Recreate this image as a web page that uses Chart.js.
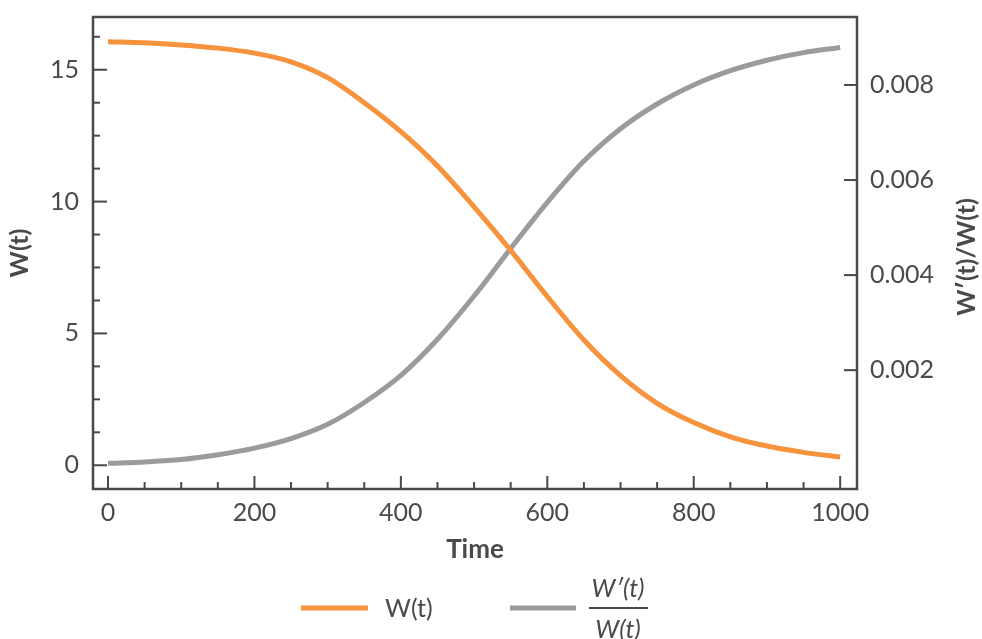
<!DOCTYPE html>
<html>
<head>
  <meta charset="utf-8">
  <title>W(t) and W'(t)/W(t)</title>
  <script src="https://cdn.jsdelivr.net/npm/chart.js"></script>
  <style>
    body { margin:0; background:#fff; }
    .wrap { width:982px; height:639px; position:relative; }
  </style>
</head>
<body>
  <div class="wrap"><canvas id="chart" width="982" height="639"></canvas></div>

  <script>
    // ---------------- Data ----------------
    const time = [0, 50, 100, 150, 200, 250, 300, 350, 400, 450, 500, 550, 600, 650, 700, 750, 800, 850, 900, 950, 1000];
    const wValues = [16.06, 16.02, 15.94, 15.82, 15.63, 15.3, 14.7, 13.75, 12.65, 11.35, 9.8, 8.15, 6.4, 4.75, 3.4, 2.35, 1.62, 1.08, 0.73, 0.49, 0.31];
    const ratioValues = [0.00004, 0.00007, 0.00012, 0.00022, 0.00036, 0.00056, 0.00086, 0.00132, 0.00189, 0.00265, 0.00356, 0.00456, 0.00553, 0.0064, 0.00708, 0.0076, 0.008, 0.0083, 0.00852, 0.00868, 0.00879];

    const timeTicks = [0, 200, 400, 600, 800, 1000];
    const timeMinor = [50, 100, 150, 250, 300, 350, 450, 500, 550, 650, 700, 750, 850, 900, 950];
    const wTicks = [0, 5, 10, 15];
    const wMinor = [1.25, 2.5, 3.75, 6.25, 7.5, 8.75, 11.25, 12.5, 13.75, 16.25];
    const ratioTicks = [0.002, 0.004, 0.006, 0.008];

    const ORANGE = "#F7923D";
    const GREY = "#9B9B9B";
    const INK = "#48484d";
    const TEXT = "#4a4a4a";
    const FONT = "Lato, 'Open Sans', sans-serif";

    // ---------------- Frame, inward ticks, right title, legend ----------------
    const decorations = {
      id: "decorations",
      afterDatasetsDraw(chart) {
        const { ctx, chartArea: a, scales } = chart;
        const line = (x1, y1, x2, y2) => { ctx.beginPath(); ctx.moveTo(x1, y1); ctx.lineTo(x2, y2); ctx.stroke(); };
        ctx.save();
        ctx.strokeStyle = INK;
        ctx.lineWidth = 2;
        wTicks.forEach(v => { const y = scales.y.getPixelForValue(v); line(a.left, y, a.left + 14, y); });
        wMinor.forEach(v => { const y = scales.y.getPixelForValue(v); line(a.left, y, a.left + 7, y); });
        timeTicks.forEach(v => { const x = scales.x.getPixelForValue(v); line(x, a.bottom, x, a.bottom - 13); });
        timeMinor.forEach(v => { const x = scales.x.getPixelForValue(v); line(x, a.bottom, x, a.bottom - 7); });
        ratioTicks.forEach(v => { const y = scales.y2.getPixelForValue(v); line(a.right, y, a.right - 13, y); });
        ctx.lineWidth = 2.5;
        ctx.strokeRect(a.left, a.top, a.right - a.left, a.bottom - a.top);

        // right axis title, reading bottom to top
        ctx.fillStyle = TEXT;
        ctx.font = "bold 25px " + FONT;
        ctx.textAlign = "center";
        ctx.textBaseline = "middle";
        ctx.save();
        ctx.translate(967, 257);
        ctx.rotate(-Math.PI / 2);
        ctx.fillText("W\u2032(t)/W(t)", 0, 0);
        ctx.restore();

        // legend
        const ds = chart.data.datasets;
        const ly = 608;
        ctx.lineWidth = 5;
        ctx.strokeStyle = ds[0].borderColor;
        line(301, ly, 368, ly);
        ctx.strokeStyle = ds[1].borderColor;
        line(510, ly, 576, ly);
        ctx.fillStyle = TEXT;
        ctx.font = "25px " + FONT;
        ctx.textAlign = "left";
        ctx.fillText(ds[0].label, 385, ly + 1);
        ctx.font = "italic 25px " + FONT;
        ctx.textAlign = "center";
        ctx.fillText("W\u2032(t)", 618, ly - 19);
        ctx.fillText("W(t)", 618, ly + 22);
        ctx.strokeStyle = INK;
        ctx.lineWidth = 2;
        line(589, ly, 648, ly);
        ctx.restore();
      }
    };

    const noPad = s => { s.paddingTop = 0; s.paddingBottom = 0; s.paddingLeft = 0; s.paddingRight = 0; };

    const ctx = document.getElementById("chart").getContext("2d");
    new Chart(ctx, {
      type: "line",
      data: {
        datasets: [
          {
            label: "W(t)",
            data: time.map((t, i) => ({ x: t, y: wValues[i] })),
            borderColor: ORANGE,
            borderWidth: 5,
            pointRadius: 0,
            cubicInterpolationMode: "monotone",
            yAxisID: "y"
          },
          {
            label: "W'(t)/W(t)",
            data: time.map((t, i) => ({ x: t, y: ratioValues[i] })),
            borderColor: GREY,
            borderWidth: 5,
            pointRadius: 0,
            cubicInterpolationMode: "monotone",
            yAxisID: "y2"
          }
        ]
      },
      options: {
        responsive: false,
        animation: false,
        layout: { padding: { top: 17, left: 0, right: 0, bottom: 0 } },
        plugins: { legend: { display: false }, tooltip: { enabled: false } },
        scales: {
          x: {
            type: "linear",
            min: -20.5,
            max: 1023,
            afterBuildTicks: s => { s.ticks = timeTicks.map(v => ({ value: v })); },
            afterFit: s => { s.height = 150; noPad(s); },
            grid: { display: false, drawTicks: false },
            border: { display: false },
            ticks: { color: TEXT, font: { family: FONT, size: 25 }, padding: 9, maxRotation: 0, callback: v => String(v) },
            title: { display: true, text: "Time", color: TEXT, font: { family: FONT, size: 26, weight: "bold" }, padding: { bottom: 74 } }
          },
          y: {
            position: "left",
            min: -0.9,
            max: 17,
            afterBuildTicks: s => { s.ticks = wTicks.map(v => ({ value: v })); },
            afterFit: s => { s.width = 93; noPad(s); },
            grid: { display: false, drawTicks: false },
            border: { display: false },
            ticks: { color: TEXT, font: { family: FONT, size: 25 }, padding: 14 },
            title: { display: true, text: "W(t)", color: TEXT, font: { family: FONT, size: 25, weight: "bold" }, padding: { top: 5 } }
          },
          y2: {
            position: "right",
            min: -0.0005,
            max: 0.00943,
            afterBuildTicks: s => { s.ticks = ratioTicks.map(v => ({ value: v })); },
            afterFit: s => { s.width = 125; noPad(s); },
            grid: { display: false, drawTicks: false },
            border: { display: false },
            ticks: { color: TEXT, font: { family: FONT, size: 25 }, padding: 13, callback: v => v.toFixed(3) }
          }
        }
      },
      plugins: [decorations]
    });
  </script>
</body>
</html>
